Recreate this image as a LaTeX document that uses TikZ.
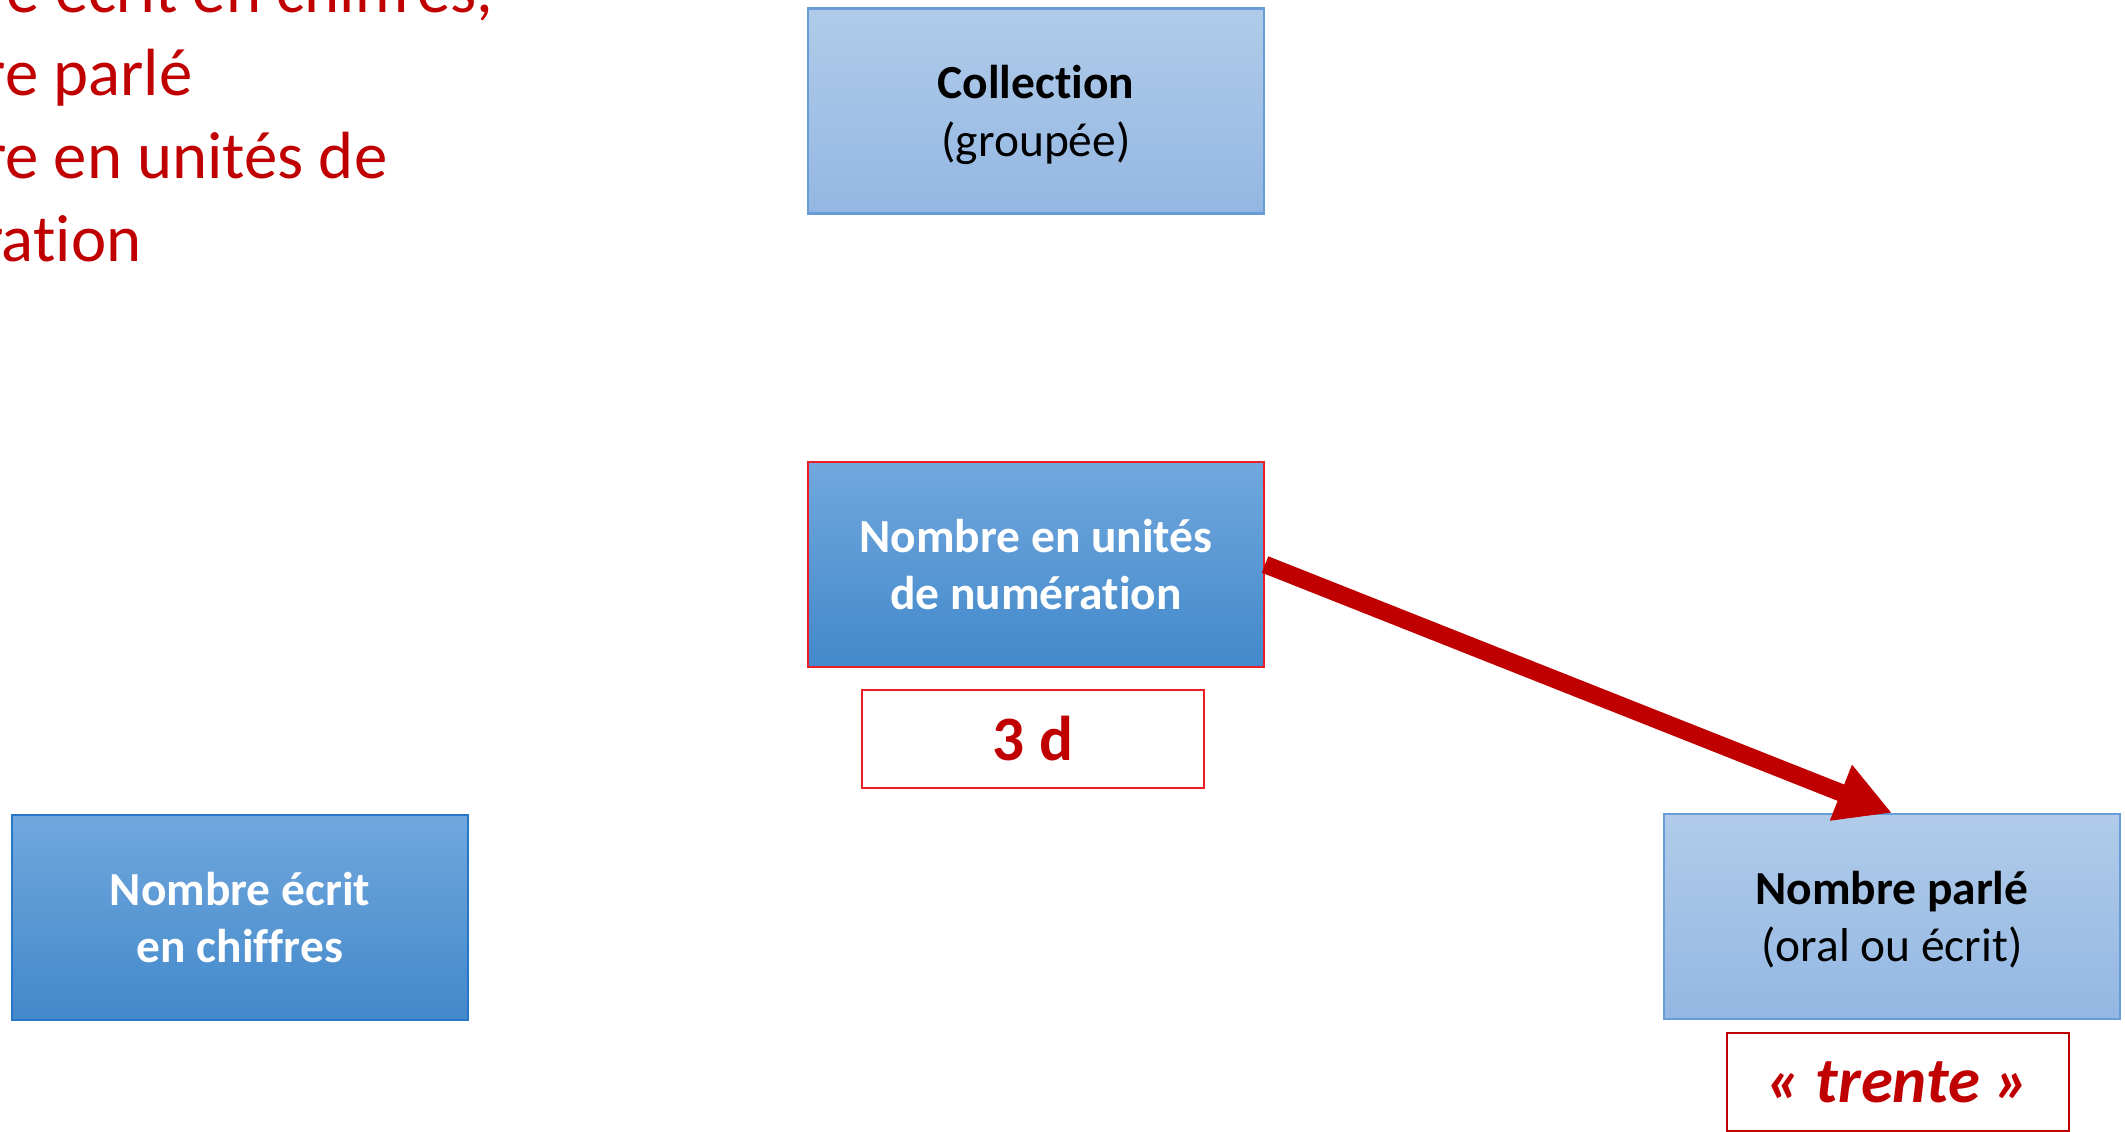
\documentclass[tikz,border=0pt]{standalone}
\usepackage{fontspec}
\setmainfont{Carlito}[Ligatures={NoCommon}]
\usetikzlibrary{arrows.meta}
\definecolor{darkred}{HTML}{C00000}
\definecolor{lighttop}{RGB}{177,203,233}
\definecolor{lightbot}{RGB}{147,183,227}
\definecolor{lightedge}{RGB}{104,156,216}
\definecolor{darktop}{RGB}{113,167,221}
\definecolor{darkbot}{RGB}{66,137,203}
\definecolor{darkedge}{RGB}{40,118,200}
\definecolor{boxred}{RGB}{235,30,40}
\begin{document}
\begin{tikzpicture}[x=1cm,y=1cm,
  lightbox/.style={draw=lightedge, line width=0.6pt, top color=lighttop, bottom color=lightbot,
    minimum width=4.56cm, minimum height=2.05cm, inner sep=0pt, align=center,
    text depth=0pt, font=\fontsize{13.5}{16.3}\selectfont},
  darkbox/.style={draw=lightedge, line width=0.6pt, top color=darktop, bottom color=darkbot,
    minimum width=4.56cm, minimum height=2.05cm, inner sep=0pt, align=center,
    text=white, font=\bfseries\fontsize{13.5}{16.3}\selectfont},
  valbox/.style={draw=darkred, line width=0.8pt, fill=white, minimum width=3.42cm,
    minimum height=0.98cm, inner sep=0pt, text=darkred, font=\bfseries\fontsize{18}{22}\selectfont},
  redtxt/.style={text=darkred, inner sep=0pt, font=\fontsize{19}{23}\selectfont}]
\useasboundingbox (0,0) rectangle (21.25,-11.32);

% --- cut text, top left ---
\begin{scope}
\clip (0,0) rectangle (21.25,-11.32);
\node[redtxt, anchor=base east] (ligneA) at (4.94,-0.13) {e écrit en chiffres,};
\node[redtxt, anchor=base east] (ligneB) at (1.93,-0.96) {re parlé};
\node[redtxt, anchor=base east] (ligneC) at (3.88,-1.79) {re en unités de};
\node[redtxt, anchor=base east] (ligneD) at (1.42,-2.62) {ration};
\end{scope}

% --- the four forms of the number ---
\node[lightbox] (coll) at (10.36,-1.11) {\textbf{Collection}\\(groupée)};
\node[darkbox, draw=boxred] (unites) at (10.36,-5.645) {Nombre en unités\\de numération};
\node[darkbox, draw=darkedge] (ecrit) at (2.40,-9.175) {Nombre écrit\\en chiffres};
\node[lightbox] (parle) at (18.92,-9.165) {\textbf{Nombre parlé}\\(oral ou écrit)};

% values
\node[valbox, draw=boxred] (troisd) at (10.33,-7.39) {3 d};
\node[valbox, font=\bfseries\itshape\fontsize{18.4}{22}\selectfont] (trente) at (18.98,-10.82) {« trente »};

% arrow
\draw[darkred, line width=5pt, -{Triangle[length=5.5mm,width=5.6mm]}] (unites.east) -- (parle.north);
\end{tikzpicture}
\end{document}
